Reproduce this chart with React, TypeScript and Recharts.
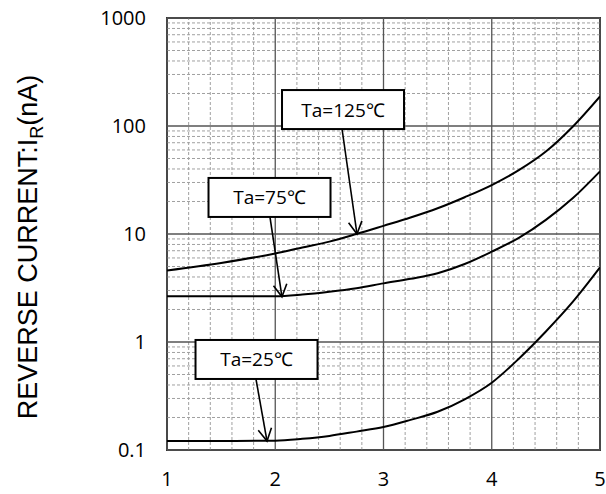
import { ComposedChart, Line, XAxis, YAxis, ReferenceLine, ReferenceArea, ReferenceDot } from 'recharts'

const vr = [1, 1.5, 2, 2.25, 2.5, 2.75, 3, 3.25, 3.5, 3.75, 4, 4.25, 4.5, 4.75, 5]
const ir125 = [4.6, 5.4, 6.6, 7.5, 8.5, 10, 11.9, 14.2, 17.3, 21.9, 28.4, 39, 58, 99, 188]
const ir75 = [2.65, 2.65, 2.65, 2.75, 2.92, 3.15, 3.49, 3.85, 4.33, 5.27, 6.86, 9.2, 13.5, 21.5, 38]
const ir25 = [0.121, 0.121, 0.122, 0.127, 0.135, 0.148, 0.163, 0.19, 0.226, 0.295, 0.42, 0.7, 1.25, 2.36, 4.9]

const xTicks = [1, 2, 3, 4, 5]
const yTicks = [0.1, 1, 10, 100, 1000]
const xMinor = [1.2, 1.4, 1.6, 1.8, 2.2, 2.4, 2.6, 2.8, 3.2, 3.4, 3.6, 3.8, 4.2, 4.4, 4.6, 4.8]
const yMinorSteps = [2, 3, 4, 5, 6, 7, 8, 9]

// label boxes: centre (x, y) and arrow from (ax1, ay1) to (ax2, ay2)
const notes = [
  { text: 'Ta=125℃', x: 2.626, y: 142, ax1: 2.617, ay1: 93.8, ax2: 2.755, ay2: 10 },
  { text: 'Ta=75℃', x: 1.947, y: 21.8, ax1: 1.951, ay1: 14.4, ax2: 2.062, ay2: 2.62 },
  { text: 'Ta=25℃', x: 1.827, y: 0.689, ax1: 1.822, ay1: 0.454, ax2: 1.924, ay2: 0.121 },
]

const data = vr.map((v, i) => ({ x: v, a: ir125[i], b: ir75[i], c: ir25[i] }))
const yMinor = yTicks.slice(0, -1).flatMap((d) => yMinorSteps.map((m) => +(d * m).toPrecision(3)))

const tickFont = { fontSize: 20, fill: '#000', fontFamily: 'Open Sans' }

function Arrow(p: any) {
  const { x1, y1, x2, y2 } = p
  const ang = Math.atan2(y2 - y1, x2 - x1)
  const len = 14
  const spread = 0.5
  const w1x = x2 - len * Math.cos(ang - spread)
  const w1y = y2 - len * Math.sin(ang - spread)
  const w2x = x2 - len * Math.cos(ang + spread)
  const w2y = y2 - len * Math.sin(ang + spread)
  return (
    <g>
      <line x1={x1} y1={y1} x2={x2} y2={y2} stroke="#000" strokeWidth={1.6} />
      <polyline points={`${w1x},${w1y} ${x2},${y2} ${w2x},${w2y}`} fill="none" stroke="#000" strokeWidth={1.6} />
    </g>
  )
}

function NoteBox({ cx, cy, text }: any) {
  return (
    <g>
      <rect x={cx - 61} y={cy - 19.5} width={122} height={39} fill="#fff" stroke="#000" strokeWidth={2} />
      <text x={cx} y={cy + 7} textAnchor="middle" fontSize={19} fontFamily="Open Sans" fill="#000">
        {text}
      </text>
    </g>
  )
}

function YLabel({ viewBox }: any) {
  const cx = 37
  const cy = viewBox.y + viewBox.height / 2 + 13
  return (
    <text
      x={cx}
      y={cy}
      transform={`rotate(-90 ${cx} ${cy})`}
      textAnchor="middle"
      fontSize={27}
      fontFamily="Liberation Sans, Arial"
      fill="#000"
    >
      REVERSE CURRENT:I
      <tspan fontSize={18} dy={6}>R</tspan>
      <tspan dy={-6}>(nA)</tspan>
    </text>
  )
}

export default function App() {
  return (
    <div style={{ position: 'absolute', left: 0, top: 0, background: '#fff' }}>
      <ComposedChart width={606} height={494} data={data} margin={{ top: 18, right: 6, bottom: 0, left: 0 }}>
        <XAxis
          dataKey="x"
          type="number"
          domain={[1, 5]}
          ticks={xTicks}
          height={44}
          tickLine={false}
          axisLine={false}
          tickSize={0}
          tickMargin={22}
          tick={tickFont}
          allowDataOverflow
        />
        <YAxis
          type="number"
          scale="log"
          domain={[0.1, 1000]}
          ticks={yTicks}
          width={167}
          tickLine={false}
          axisLine={false}
          tickSize={0}
          tickMargin={21}
          tick={tickFont}
          tickFormatter={(v: number) => String(v)}
          allowDataOverflow
          label={{ content: YLabel }}
        />
        {yMinor.map((v) => (
          <ReferenceLine key={'hy' + v} y={v} stroke="#a0a0a0" strokeDasharray="3 2" strokeWidth={1} />
        ))}
        {xMinor.map((v) => (
          <ReferenceLine key={'vx' + v} x={v} stroke="#a0a0a0" strokeDasharray="3 2" strokeWidth={1} />
        ))}
        {yTicks.map((v) => (
          <ReferenceLine key={'my' + v} y={v} stroke="#555" strokeWidth={1.3} />
        ))}
        {xTicks.map((v) => (
          <ReferenceLine key={'mx' + v} x={v} stroke="#555" strokeWidth={1.3} />
        ))}
        <ReferenceArea x1={1} x2={5} y1={0.1} y2={1000} fill="none" stroke="#333" strokeWidth={2} />
        <Line dataKey="a" type="monotone" stroke="#000" strokeWidth={2} dot={false} isAnimationActive={false} />
        <Line dataKey="b" type="monotone" stroke="#000" strokeWidth={2} dot={false} isAnimationActive={false} />
        <Line dataKey="c" type="monotone" stroke="#000" strokeWidth={2} dot={false} isAnimationActive={false} />
        {notes.map((n) => (
          <ReferenceLine
            key={'ar' + n.text}
            segment={[
              { x: n.ax1, y: n.ay1 },
              { x: n.ax2, y: n.ay2 },
            ]}
            shape={Arrow}
          />
        ))}
        {notes.map((n) => (
          <ReferenceDot
            key={'bx' + n.text}
            x={n.x}
            y={n.y}
            r={1}
            shape={(p: any) => <NoteBox cx={p.cx} cy={p.cy} text={n.text} />}
          />
        ))}
      </ComposedChart>
    </div>
  )
}
